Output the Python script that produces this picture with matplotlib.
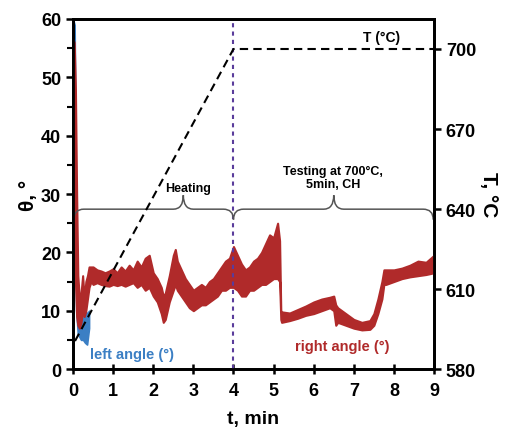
import numpy as np
import matplotlib
matplotlib.use("Agg")
import matplotlib.pyplot as plt
from matplotlib.path import Path
from matplotlib.patches import PathPatch

plt.rcParams["font.family"] = ["Liberation Sans", "DejaVu Sans"]
plt.rcParams["font.weight"] = "bold"
plt.rcParams["axes.labelweight"] = "bold"

# Right (red) contact angle band: time, lower, upper
red_t = [0.00, 0.03, 0.06, 0.09, 0.12, 0.16, 0.20, 0.24, 0.28, 0.32, 0.36, 0.40, 0.45,
         0.5, 0.6, 0.7, 0.8, 0.9, 1.0, 1.1, 1.2, 1.3, 1.4, 1.5, 1.6, 1.7, 1.8, 1.9,
         2.0, 2.1, 2.2, 2.25, 2.3, 2.4, 2.5, 2.55, 2.6, 2.7, 2.8, 2.9, 3.0, 3.1, 3.2,
         3.3, 3.4, 3.5, 3.6, 3.7, 3.8, 3.9, 4.0, 4.1, 4.2, 4.3, 4.4, 4.5, 4.6, 4.7,
         4.8, 4.9, 5.0, 5.1, 5.15, 5.18, 5.2, 5.4, 5.6, 5.8, 6.0, 6.2, 6.4, 6.5, 6.55,
         6.6, 6.8, 7.0, 7.2, 7.4, 7.5, 7.6, 7.7, 7.75, 7.8, 8.0, 8.2, 8.4, 8.6, 8.8, 9.0]
red_lo = [40, 30, 15, 9, 7.5, 7, 8, 10, 9, 10, 12, 14, 15,
          14.5, 14.8, 14.5, 14.3, 14.2, 14.5, 14.3, 14.5, 14.2, 14.5, 14.8, 14.0, 14.5, 13.5, 14.0,
          12.5, 11.5, 9.5, 8, 8.5, 11.5, 13.5, 14.5, 13.5, 12.5, 11.5, 10.5, 10, 10.5, 11,
          11, 11.5, 12, 12.5, 13.5, 13.5, 14, 14, 13.5, 12.5, 12.5, 13.5, 13.5, 14, 14.5,
          14.5, 15, 15.5, 15.5, 15, 8.5, 8, 8.3, 8.7, 9.2, 9.5, 10, 10.5, 10, 7.5,
          8, 7.5, 7, 6.7, 6.8, 7.5, 9.5, 12, 14.5, 14.5, 15, 15.5, 15.8, 16, 16.2, 16.5]
red_hi = [56.5, 56, 48, 30, 16, 12, 13, 16, 12, 15, 16, 17.5, 17.5,
          17.5, 17, 16.8, 16.5, 16.8, 17.2, 16.5, 17.5, 16.8, 17.8, 17.0, 18.5, 17.5, 19.0, 19.5,
          16.5, 15.5, 14, 12.5, 13, 16, 19.5, 20.5, 18.5, 17, 15.5, 14.5, 13.5, 14, 14.5,
          14, 15, 15.5, 16.5, 17.5, 18.5, 19, 21, 19.5, 18, 17, 17.5, 18.5, 19, 20,
          21.5, 23, 22.5, 25, 22, 10, 9.8, 9.6, 10.2, 10.8, 11.5, 12, 12.3, 12.5, 11,
          10.5, 9.5, 8.5, 8, 8.3, 9.5, 12, 15, 17, 17, 17, 17.3, 17.8, 18.5, 18.3, 19.5]

# Left (blue) contact angle band
blue_t = [0.00, 0.04, 0.08, 0.12, 0.16, 0.20, 0.25, 0.30, 0.35, 0.40]
blue_lo = [55, 30, 10, 6, 5.5, 5, 5, 4.5, 4.2, 7]
blue_hi = [60, 59, 25, 10, 8, 8.5, 9, 10, 9.5, 10]

# Furnace temperature programme
temp_t = [0.05, 4, 9]
temp_c = [590.5, 700, 700]

red = "#b02a2a"
blue = "#3b7fc4"

fig = plt.figure(figsize=(5.12, 4.31), dpi=100)
ax = fig.add_axes([0.1426, 0.1415, 0.7051, 0.8121])
ax2 = ax.twinx()

ax.fill_between(blue_t, blue_lo, blue_hi, color=blue, lw=1.2, edgecolor=blue, zorder=2)
ax.fill_between(red_t, red_lo, red_hi, color=red, lw=1.5, edgecolor=red, zorder=3)

ax.axvline(4, color="#5a3c9b", ls=(0, (2, 2)), lw=1.5, zorder=4)


def brace(x0, x1, xt, yb, d_end, d_tip, r):
    verts = [(x0, yb - d_end), (x0, yb), (x0 + r, yb),
             (xt - r, yb), (xt, yb), (xt, yb + d_tip),
             (xt, yb), (xt + r, yb),
             (x1 - r, yb), (x1, yb), (x1, yb - d_end)]
    codes = [Path.MOVETO, Path.CURVE3, Path.CURVE3,
             Path.LINETO, Path.CURVE3, Path.CURVE3,
             Path.CURVE3, Path.CURVE3,
             Path.LINETO, Path.CURVE3, Path.CURVE3]
    ax.add_patch(PathPatch(Path(verts, codes), fill=False, ec="#555555", lw=1.1, zorder=5))


brace(0.02, 4.0, 2.75, 27.4, 1.8, 2.4, 0.25)
brace(4.0, 8.98, 6.5, 27.4, 1.8, 2.4, 0.25)

ax.text(2.87, 31.0, "Heating", ha="center", va="center", fontsize=9)
ax.text(6.48, 32.8, "Testing at 700°C,\n5min, CH", ha="center", va="center", fontsize=9,
        linespacing=1.1)
ax.text(1.47, 2.6, "left angle (°)", ha="center", va="center", fontsize=10.5, color=blue)
ax.text(6.72, 4.0, "right angle (°)", ha="center", va="center", fontsize=10.5, color=red)

ax2.plot(temp_t, temp_c, color="black", ls=(0, (4, 2.5)), lw=1.5)
ax2.text(7.68, 704.5, "T (°C)", ha="center", va="center", fontsize=10)

ax.set_xlim(0, 9)
ax.set_ylim(0, 60)
ax2.set_ylim(580, 711.25)
ax.set_xticks(range(0, 10))
ax.set_yticks(range(0, 61, 10))
ax.set_yticks(range(5, 60, 10), minor=True)
ax2.set_yticks([580, 610, 640, 670, 700])

for a in (ax, ax2):
    for s in a.spines.values():
        s.set_linewidth(2)
ax.tick_params(axis="x", direction="inout", length=7, width=1.8, labelsize=13, pad=6)
ax.tick_params(axis="y", direction="out", length=5, width=1.8, labelsize=13)
ax.tick_params(axis="y", which="minor", direction="out", length=4, width=1.5)
ax2.tick_params(axis="y", direction="out", length=5, width=1.8, labelsize=13)

ax.set_xlabel("t, min", fontsize=14, labelpad=8)
ax.set_ylabel("θ, °", fontsize=15, labelpad=2)
ax2.set_ylabel("T, °C", fontsize=15, rotation=270, labelpad=16)

fig.savefig("out.png", dpi=100)
